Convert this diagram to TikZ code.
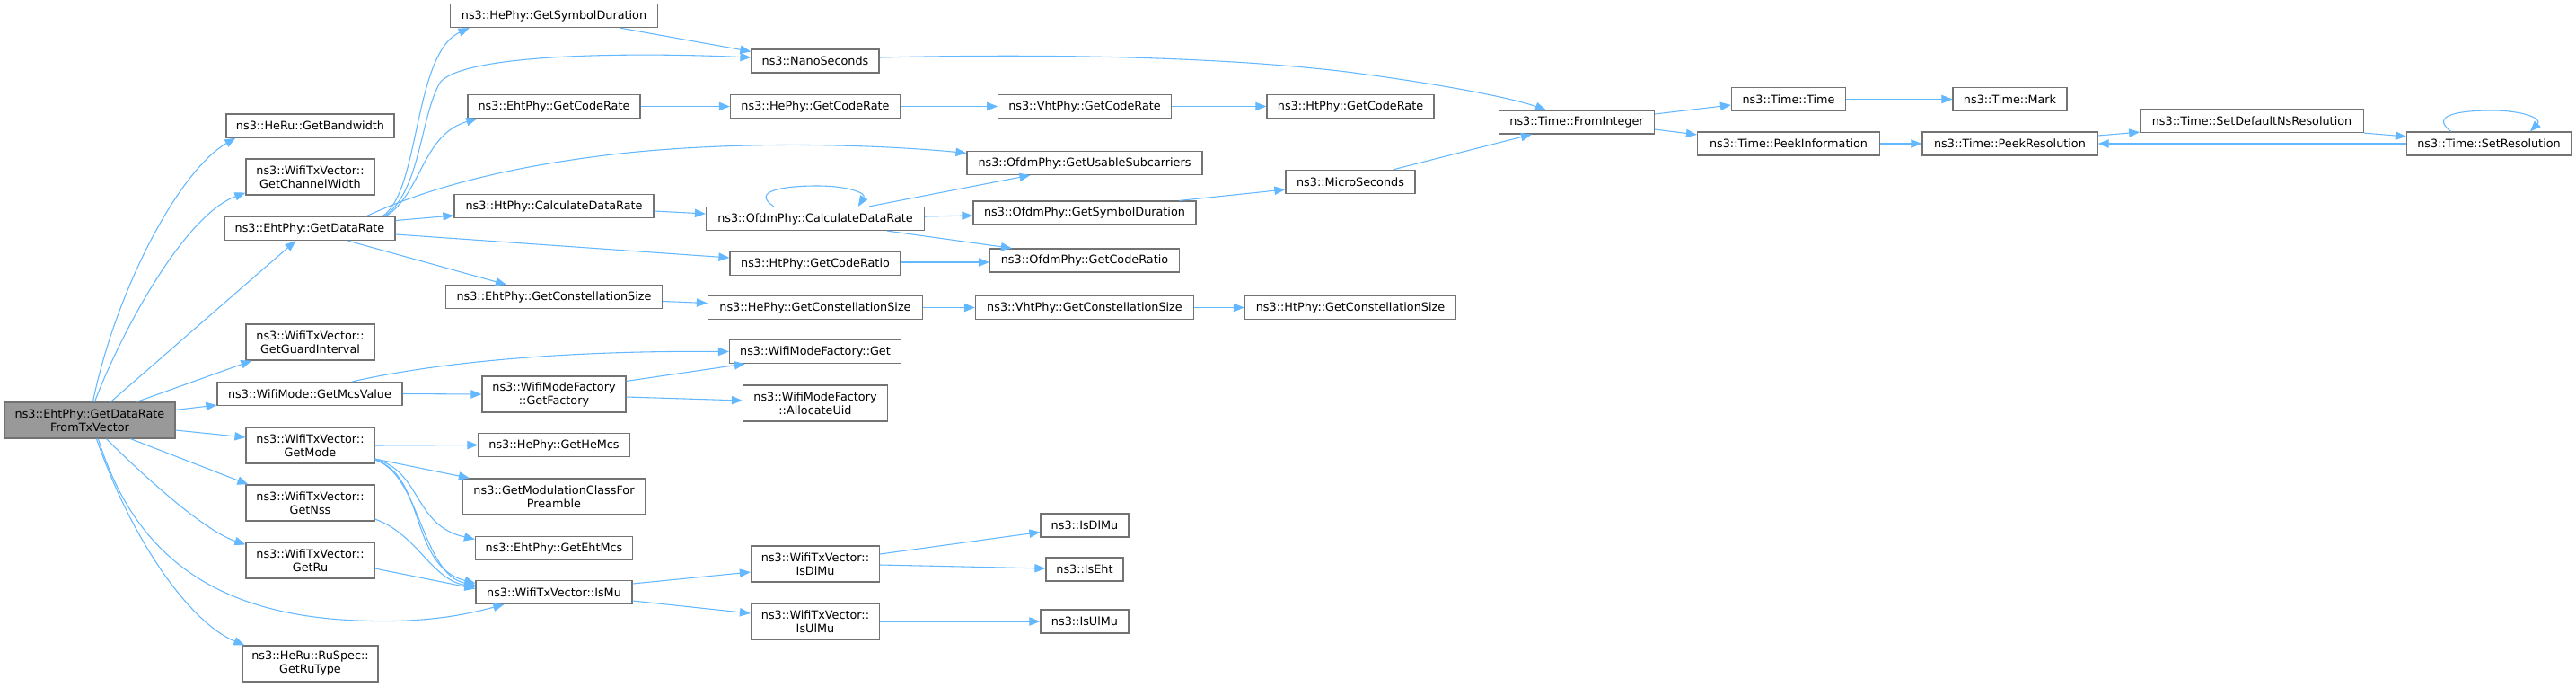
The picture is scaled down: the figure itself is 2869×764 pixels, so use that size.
\documentclass[tikz,border=0pt]{standalone}
\usepackage{fontspec}
\setmainfont{DejaVu Sans}
\usetikzlibrary{arrows.meta,calc}
\definecolor{edgec}{RGB}{99,184,255}
\definecolor{boxc}{RGB}{115,115,115}
\definecolor{rootc}{RGB}{153,153,153}
\begin{document}
\begin{tikzpicture}[x=0.75pt,y=-0.75pt,
  fnbox/.style={draw=boxc, line width=0.9pt, fill=white, inner sep=0pt, align=center, text=black,
    font=\fontsize{9.6pt}{11.25pt}\selectfont},
  sz/.style 2 args={minimum width=#1*0.75pt, minimum height=#2*0.75pt},
  cn/.style={draw=edgec, line width=0.8pt, -{Triangle[length=9pt,width=7pt]}},
]
\fill[white] (0,0) rectangle (2869,764);
\useasboundingbox (0,0) rectangle (2869,764);

% column 0
\node[fnbox, sz={190}{40}, fill=rootc] (A) at (100,468) {ns3::EhtPhy::GetDataRate\\FromTxVector};
% column 1
\node[fnbox, sz={187}{26}] (bw) at (345.5,140) {ns3::HeRu::GetBandwidth};
\node[fnbox, sz={143}{40}] (cw) at (345.5,197) {ns3::WifiTxVector::\\GetChannelWidth};
\node[fnbox, sz={190}{26}] (dr) at (345,254.5) {ns3::EhtPhy::GetDataRate};
\node[fnbox, sz={143}{40}] (gi) at (345.5,381) {ns3::WifiTxVector::\\GetGuardInterval};
\node[fnbox, sz={206}{26}] (mcs) at (345,438.5) {ns3::WifiMode::GetMcsValue};
\node[fnbox, sz={143}{40}] (gm) at (345.5,496) {ns3::WifiTxVector::\\GetMode};
\node[fnbox, sz={143}{40}] (nss) at (345.5,560) {ns3::WifiTxVector::\\GetNss};
\node[fnbox, sz={143}{40}] (ru) at (345.5,624) {ns3::WifiTxVector::\\GetRu};
\node[fnbox, sz={151}{40}] (rt) at (345.5,739) {ns3::HeRu::RuSpec::\\GetRuType};
% column 2
\node[fnbox, sz={231.5}{26}] (hsd) at (617,17.5) {ns3::HePhy::GetSymbolDuration};
\node[fnbox, sz={192}{26}] (ecr) at (617,118.5) {ns3::EhtPhy::GetCodeRate};
\node[fnbox, sz={222}{26}] (hcd) at (617,229.5) {ns3::HtPhy::CalculateDataRate};
\node[fnbox, sz={241}{26}] (ecs) at (617,330.5) {ns3::EhtPhy::GetConstellationSize};
\node[fnbox, sz={160}{40}] (gf) at (617,439) {ns3::WifiModeFactory\\::GetFactory};
\node[fnbox, sz={168}{26}] (hem) at (617,495.5) {ns3::HePhy::GetHeMcs};
\node[fnbox, sz={203}{40}] (gmc) at (617,553) {ns3::GetModulationClassFor\\Preamble};
\node[fnbox, sz={175}{26}] (ehm) at (617,610.5) {ns3::EhtPhy::GetEhtMcs};
\node[fnbox, sz={174}{26}] (ismu) at (617,659.5) {ns3::WifiTxVector::IsMu};
% column 3
\node[fnbox, sz={142}{26}] (ns) at (908,68) {ns3::NanoSeconds};
\node[fnbox, sz={189}{26}] (hecr) at (908,118.5) {ns3::HePhy::GetCodeRate};
\node[fnbox, sz={243}{26}] (ocd) at (908,243.5) {ns3::OfdmPhy::CalculateDataRate};
\node[fnbox, sz={190}{26}] (hcr) at (908,293.5) {ns3::HtPhy::GetCodeRatio};
\node[fnbox, sz={239}{26}] (hcs) at (908,342.5) {ns3::HePhy::GetConstellationSize};
\node[fnbox, sz={191}{26}] (get) at (908,391.5) {ns3::WifiModeFactory::Get};
\node[fnbox, sz={161}{40}] (au) at (908,449) {ns3::WifiModeFactory\\::AllocateUid};
\node[fnbox, sz={143}{40}] (idm) at (908,628) {ns3::WifiTxVector::\\IsDlMu};
\node[fnbox, sz={143}{40}] (ium) at (908,692) {ns3::WifiTxVector::\\IsUlMu};
% column 4
\node[fnbox, sz={192.5}{26}] (vcr) at (1208,118.5) {ns3::VhtPhy::GetCodeRate};
\node[fnbox, sz={262}{26}] (us) at (1208,181.5) {ns3::OfdmPhy::GetUsableSubcarriers};
\node[fnbox, sz={248}{26}] (osd) at (1208,237) {ns3::OfdmPhy::GetSymbolDuration};
\node[fnbox, sz={211}{26}] (ocr) at (1208,290) {ns3::OfdmPhy::GetCodeRatio};
\node[fnbox, sz={243}{26}] (vcs) at (1208,342.5) {ns3::VhtPhy::GetConstellationSize};
\node[fnbox, sz={98}{26}] (ndl) at (1208,585) {ns3::IsDlMu};
\node[fnbox, sz={86}{26}] (neht) at (1208,634) {ns3::IsEht};
\node[fnbox, sz={98}{26}] (nul) at (1208,692) {ns3::IsUlMu};
% column 5
\node[fnbox, sz={186}{26}] (htcr) at (1504,118.5) {ns3::HtPhy::GetCodeRate};
\node[fnbox, sz={144}{26}] (ms) at (1504,202.5) {ns3::MicroSeconds};
\node[fnbox, sz={235}{26}] (htcs) at (1504,342.5) {ns3::HtPhy::GetConstellationSize};
% columns 6-10
\node[fnbox, sz={173}{26}] (fi) at (1756,136) {ns3::Time::FromInteger};
\node[fnbox, sz={127}{26}] (tt) at (1992,110.5) {ns3::Time::Time};
\node[fnbox, sz={203}{26}] (pi) at (1992,160) {ns3::Time::PeekInformation};
\node[fnbox, sz={127}{26}] (mk) at (2238.5,110.5) {ns3::Time::Mark};
\node[fnbox, sz={195}{26}] (pr) at (2238.5,160) {ns3::Time::PeekResolution};
\node[fnbox, sz={248.5}{26}] (sdn) at (2508,134.5) {ns3::Time::SetDefaultNsResolution};
\node[fnbox, sz={183}{26}] (sr) at (2772,160) {ns3::Time::SetResolution};

% edges from root
\draw[cn] ($(A.north west)+(99,0)$) .. controls (130,320) and (200,190) .. ($(bw.south west)+(11,0)$);
\draw[cn] ($(A.north west)+(101,0)$) .. controls (135,370) and (205,240) .. ($(cw.south west)+(0,-3)$);
\draw[cn] ($(A.north west)+(119,0)$) -- ($(dr.south west)+(80,0)$);
\draw[cn] ($(A.north west)+(148,0)$) -- ($(gi.south west)+(7,0)$);
\draw[cn] ($(A.north east)+(0,9)$) -- ($(mcs.south west)+(0,-1)$);
\draw[cn] ($(A.east)+(0,11)$) -- ($(gm.west)+(0,-9)$);
\draw[cn] ($(A.south west)+(141,0)$) -- ($(nss.north west)+(3,0)$);
\draw[cn] ($(A.south west)+(114,0)$) .. controls (155,525) and (225,590) .. ($(ru.north west)+(0,3)$);
\draw[cn] ($(A.south west)+(105,0)$) .. controls (150,620) and (240,680) .. (380,690) .. controls (470,696) and (520,684) .. ($(ismu.south west)+(32,0)$);
\draw[cn] ($(A.south west)+(103,0)$) .. controls (150,610) and (215,695) .. ($(rt.north west)+(3,0)$);

% edges from EhtPhy::GetDataRate
\draw[cn] ($(dr.north east)+(-15,0)$) .. controls (468,215) and (460,60) .. ($(hsd.south west)+(22,0)$);
\draw[cn] ($(dr.north east)+(-13,0)$) .. controls (468,215) and (468,130) .. (490,92) .. controls (515,60) and (700,58) .. ($(ns.west)+(0,-4)$);
\draw[cn] ($(dr.north east)+(-11,0)$) .. controls (470,215) and (470,150) .. ($(ecr.south west)+(11,0)$);
\draw[cn] ($(dr.north east)+(-33,0)$) .. controls (470,212) and (560,185) .. (700,170) .. controls (850,155) and (1000,163) .. ($(us.west)+(0,-11)$);
\draw[cn] ($(dr.east)+(0,-9)$) -- ($(hcd.west)+(0,10.5)$);
\draw[cn] ($(dr.east)+(0,6.5)$) -- ($(hcr.west)+(0,-6.5)$);
\draw[cn] ($(dr.south west)+(138,0)$) -- ($(ecs.north west)+(68,0)$);

% timing chain
\draw[cn] ($(hsd.south east)+(-43,0)$) -- ($(ns.north west)+(0,3)$);
\draw[cn] ($(ns.east)+(0,-4)$) .. controls (1150,60) and (1350,62) .. (1500,80) .. controls (1600,93) and (1680,108) .. ($(fi.north west)+(53,0)$);
\draw[cn] (ecr.east) -- (hecr.west);
\draw[cn] (hecr.east) -- (vcr.west);
\draw[cn] (vcr.east) -- (htcr.west);
\draw[cn] ($(hcd.east)+(0,5.5)$) -- ($(ocd.west)+(0,-5.5)$);
\draw[cn] ($(ocd.north west)+(76,0)$) .. controls (835,212) and (875,207) .. (910,207) .. controls (945,207) and (965,215) .. ($(ocd.north west)+(170,0)$);
\draw[cn] ($(ocd.north west)+(182,0)$) -- ($(us.south west)+(71,0)$);
\draw[cn] ($(ocd.east)+(0,-2.5)$) -- ($(osd.west)+(0,3)$);
\draw[cn] ($(ocd.south west)+(202,0)$) -- ($(ocr.north west)+(25,0)$);
\draw[cn] ($(hcr.east)+(0,-1.5)$) -- ($(ocr.west)+(0,2)$);
\draw[cn] ($(osd.north west)+(230,0)$) -- ($(ms.west)+(0,8.5)$);
\draw[cn] ($(ms.north west)+(120,0)$) -- ($(fi.south west)+(37,0)$);
\draw[cn] ($(ecs.east)+(0,5)$) -- ($(hcs.west)+(0,-5)$);
\draw[cn] (hcs.east) -- (vcs.west);
\draw[cn] (vcs.east) -- (htcs.west);
\draw[cn] ($(fi.east)+(0,-9)$) -- ($(tt.west)+(0,6.5)$);
\draw[cn] ($(fi.east)+(0,8)$) -- ($(pi.west)+(0,-10)$);
\draw[cn] (tt.east) -- (mk.west);
\draw[cn] (pi.east) -- (pr.west);
\draw[cn] ($(pr.east)+(0,-9)$) -- ($(sdn.south west)+(0,-1)$);
\draw[cn] (sdn.south east) -- ($(sr.west)+(0,-8)$);
\draw[cn] (sr.west) -- (pr.east);
\draw[cn] ($(sr.north west)+(50,0)$) .. controls (2705,128) and (2740,123) .. (2775,123) .. controls (2810,123) and (2832,132) .. ($(sr.north west)+(138,0)$);

% wifi mode edges
\draw[cn] ($(mcs.north west)+(151,0)$) .. controls (480,405) and (620,390) .. (get.west);
\draw[cn] (mcs.east) -- (gf.west);
\draw[cn] ($(gf.north east)+(0,6)$) -- ($(get.south west)+(18,0)$);
\draw[cn] ($(gf.east)+(0,3)$) -- ($(au.west)+(0,-3)$);
\draw[cn] (gm.east) -- (hem.west);
\draw[cn] ($(gm.east)+(0,15)$) -- ($(gmc.north west)+(8,0)$);
\draw[cn] ($(gm.east)+(0,15)$) .. controls (470,525) and (460,585) .. ($(ehm.west)+(0,-10)$);
\draw[cn] ($(gm.east)+(0,16)$) .. controls (475,530) and (455,630) .. ($(ismu.west)+(0,-10)$);
\draw[cn] ($(gm.east)+(0,16)$) .. controls (468,528) and (470,640) .. ($(ismu.west)+(0,-8)$);
\draw[cn] ($(nss.east)+(0,18)$) .. controls (465,595) and (480,645) .. ($(ismu.west)+(0,-6)$);
\draw[cn] ($(ru.east)+(0,9)$) -- ($(ismu.west)+(0,-4)$);
\draw[cn] ($(ismu.east)+(0,-9.5)$) -- ($(idm.west)+(0,9)$);
\draw[cn] ($(ismu.east)+(0,9.5)$) -- ($(ium.west)+(0,-9)$);
\draw[cn] ($(idm.east)+(0,-11)$) -- ($(ndl.west)+(0,7.5)$);
\draw[cn] ($(idm.east)+(0,1)$) -- ($(neht.west)+(0,-1)$);
\draw[cn] (ium.east) -- (nul.west);
\end{tikzpicture}
\end{document}
